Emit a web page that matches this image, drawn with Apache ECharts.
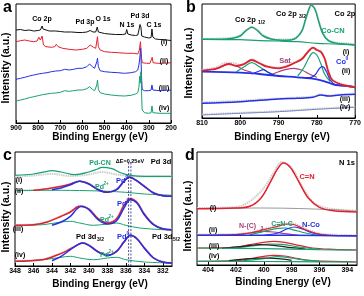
<!DOCTYPE html>
<html><head><meta charset="utf-8">
<script src="https://cdn.jsdelivr.net/npm/echarts@6/dist/echarts.min.js"></script>
<style>html,body{margin:0;padding:0;background:#fff}#c{width:364px;height:296px}</style>
</head><body><div id="c"></div>
<script>
// ---------- Panel a: survey spectra [eV, intensity] ----------
const aTicks = [900,800,700,600,500,400,300,200];
const aI = [[900,93],[880,93.5],[860,92.5],[840,93],[820,92],[800,92.5],[795,93.5],[790,93],[782,97],[778,94],[770,92.5],[750,92],[720,92],[700,91.5],[680,91],[650,91],[620,90.5],[600,90.5],[580,91],[565,92.5],[560,94],[552,91],[540,91],[533,96],[528,91],[520,90],[500,89.5],[480,89],[450,88.5],[420,88.5],[405,89],[400,93.5],[395,89],[380,88],[360,87.5],[350,88],[345,93],[340,98.5],[336,96],[332,87],[320,86],[300,85],[290,85.5],[286,94],[282,86],[270,84],[250,83.5],[220,83],[200,82.5]];
const aII = [[900,81.3],[880,82.3],[860,83],[840,82],[820,81.3],[805,82],[797,85.7],[790,83],[782,87],[776,78],[765,76.3],[740,75.7],[725,76.3],[718,78.7],[710,76.3],[690,74.7],[660,73.7],[630,73],[600,73.7],[580,74.7],[565,78],[560,79.7],[550,75.7],[540,74.7],[532,86.3],[528,76.3],[520,73],[500,71.3],[470,70.7],[440,70.3],[400,69.7],[370,69.7],[350,69],[343,73],[338,81.3],[335,79.7],[333,64.7],[330,60.3],[310,59.7],[295,59.7],[288,61.3],[285,65.7],[281,60.3],[260,59.7],[230,59.7],[200,60.3]];
const aIII = [[900,43.7],[880,44.7],[860,45.7],[840,47],[820,48],[800,49],[780,49.7],[760,50.3],[740,51.3],[720,52],[700,52.3],[680,53.7],[660,53],[640,53.7],[620,54.7],[600,54.7],[580,56.3],[568,59],[562,60.3],[555,56.3],[545,54.7],[535,61.3],[532,64.7],[528,56.3],[520,52.3],[500,51.3],[470,50.7],[440,50.3],[410,49.7],[380,50.3],[360,51.3],[350,53],[345,58],[342,63],[340,61.3],[337,74.7],[335,73],[333,46.3],[330,33.7],[320,32.3],[300,32.3],[290,33],[286,38],[282,33],[250,32.3],[220,32.7],[200,33]];
const aIV = [[900,22],[880,23],[860,24],[840,25.3],[820,26.3],[800,27.3],[780,28.3],[760,29],[740,29.7],[720,30],[700,30.7],[680,32.3],[660,31.7],[640,32.3],[620,33],[600,33],[580,34.3],[568,36.3],[562,37],[555,33.7],[545,32.3],[535,38],[532,43],[528,33.7],[520,30.3],[500,29],[470,28],[440,27.3],[410,27],[380,27.7],[360,29],[350,30.3],[345,35.7],[341,47],[339,39.7],[336,51.3],[334,44.7],[332,23],[330,13],[320,10.3],[300,9.7],[290,10.3],[286,17],[282,10.3],[250,9.7],[220,9.7],[200,9.7]];

// ---------- Panel b: Co 2p ----------
const bTicks = [810,800,790,780,770];
const bRawI = [[810,79],[805,79.5],[802,80.5],[800,83],[798.5,88],[797,91],[795.5,88],[794,83],[792,79.5],[790,78.5],[788,78.5],[786,79.5],[784,87],[783,98],[782,109],[781.5,112],[780.5,109],[779.5,97],[778.5,86],[777,78],[775,75.5],[772,74.5],[770,73.5]];
const bFitI = [[810,78.7],[805,78.7],[802,79.7],[800,82],[798.5,87.3],[797,90.7],[795.5,87.3],[794,82],[792,79],[790,78],[788,77.7],[786,78.7],[784,86.3],[783,98],[782,109.7],[781.5,113],[780.5,108.7],[779.5,96.3],[778.5,84.7],[777,77.3],[775,74.7],[772,73.7],[770,73]];
const bBgI = [[810,78.7],[800,78.3],[795,77.3],[790,77],[785,76.3],[780,74.7],[775,74],[770,73]];
const bRawII = [[810,48],[806,51],[804,55],[802,55],[800,53],[798,56],[797,58.5],[795,55],[793,52],[790,50.5],[788,52],[786,55.5],[784,59],[782.5,65.5],[781,70],[780,68.5],[779,66],[778,60],[777,47],[776,38.5],[774,34.5],[772,32.5],[770,31]];
const bEnvII = [[810,47.3],[806,49.7],[803,54],[801,52],[799,54],[797,58],[795,54.7],[793,51.3],[790,49.7],[788,51.3],[786,54.7],[784,58.7],[782.5,65.3],[781,70.3],[780,68],[779,66.3],[778,59.7],[777,46.3],[776,38],[774,34],[772,32],[770,30.7]];
const bBgII = [[810,46.3],[800,45.3],[795,44],[790,42],[785,40.7],[780,38.7],[777,35.3],[775,33],[772,32],[770,30.7]];
const bCo0a = [[797,44],[795,47],[794,48.3],[793,46.3],[791,42.3]];
const bCo0b = [[784,40.3],[782,40.3],[780.5,43],[779.3,49.7],[778.5,51.3],[777.5,46.3],[776.5,38],[775,33],[772,32]];
const bCoCNa = [[801,46.3],[799,51.3],[797,55.3],[795,51.3],[793,46.3],[791,42.7]];
const bCoCNb = [[785,42],[783.5,49.7],[782,60.7],[781,65.3],[780,63],[779,54.7],[778,44],[776.5,36.3]];
const bSatA = [[807,48],[805,51.3],[803,54],[801,52],[799,48],[797,45.7]];
const bSatB = [[792,43.3],[790,46.3],[788,48.7],[786,49.7],[784,48],[782,44],[780,40.7]];
const bRawIII = [[810,15.5],[805,16.5],[800,17],[795,18.5],[790,19.5],[785,20.5],[781,21.5],[779,23.5],[777,22.5],[774,23.5],[770,24.5]];
const bFitIII = [[810,14.7],[800,16.3],[790,19],[785,19.7],[781,20.7],[779,23],[777,22],[774,23],[770,23.7]];
const bRawIV = [[810,3.5],[800,5.2],[790,6.8],[780,9.2],[770,11.2]];
const bFitIV = [[810,3],[800,4.7],[790,6.3],[780,8.7],[770,10.7]];

// ---------- Panel c: Pd 3d ----------
const cTicks = [348,346,344,342,340,338,336,334,332];
const cRawI = [[348,89.5],[346,90.5],[344,92],[342,90],[340,91.5],[338.6,94],[337,91.5],[335,89.5],[331,89.5]];
const cPdCN = [[348,90.7],[346,92],[344.5,94.7],[344,95.3],[343,94],[341.5,91.3],[340,94],[339,97.3],[338.6,98.7],[337.5,97.3],[336.5,93],[335.5,90.7],[334,89.7],[331,89.7]];
const cRawII = [[348,75.5],[345,76.5],[343,79],[342,82],[341,85],[340,82.5],[339,77],[338,74],[337,76.5],[336.2,85],[335.6,89],[335,86.5],[334,80],[333,73.5],[332,71],[331,70]];
const cEnvII = [[346,75.7],[344.5,77.3],[343,79.7],[342,82],[341,84.7],[340,82],[339,76.3],[338,73.7],[337,76.3],[336.2,84.7],[335.6,88.7],[335,86.3],[334,79.7],[333,73],[332,70.3],[331,69.7]];
const cPd0II = [[344,76.3],[343,78],[342,81.3],[341,84.7],[340,82],[339,76.3],[338,73.7],[337,76.3],[336.2,84.7],[335.6,88.7],[335,86.3],[334,79.7],[333,73],[332,70.3],[331,69.7]];
const cPd2II = [[348,75.3],[344,75.7],[340,75.3],[338,74.7],[336,73.7],[334,72],[331,70.7]];
const cRawIII = [[348,41],[346,41.5],[344.5,44.5],[343,50],[342,54.5],[341,60],[340,57.5],[339,47.5],[338,43.5],[337,47.5],[336.2,61],[335.5,67.5],[334.8,64],[334,52.5],[333,42],[332,37.5],[331,36.5]];
const cEnvIII = [[348,40.7],[346,41.3],[344.5,44],[343,49.7],[342,54],[341,59.7],[340,57],[339,47.3],[338,43],[337,47.3],[336.2,60.7],[335.5,67.3],[334.8,63.7],[334,52],[333,41.3],[332,37],[331,36.3]];
const cPd0III = [[344,40.7],[343,44],[342,49.7],[341.3,57],[340.8,59.7],[340,56.3],[339,46.3],[338,42],[337,45.3],[336.2,58],[335.5,66.3],[334.8,63],[334,51.3],[333,41.3],[332,37.3],[331,36.3]];
const cPd2III = [[348,40.7],[345,41.3],[343,44],[342,44.7],[341,43],[339.5,40.7],[338,42],[337,43],[336,40.7],[334.5,38],[332,36.3],[331,36]];
const cRawIV = [[348,5],[345,6.5],[343.5,11],[342.5,15],[341.5,20],[340.7,23.3],[340,21],[339,14.5],[338,11],[337,15],[336.2,24.3],[335.5,31],[334.8,27.5],[334,18.5],[333,8.5],[332,4.3],[331,3.3]];
const cEnvIV = [[348,4.7],[345,6.3],[343.5,10.7],[342.5,14.7],[341.5,19.7],[340.7,23],[340,20.7],[339,14.3],[338,10.7],[337,14.7],[336.2,24],[335.5,30.7],[334.8,27.3],[334,18],[333,8],[332,4],[331,3]];
const cPd0IV = [[344,5.3],[343,9.7],[342,16.3],[341.2,21.3],[340.7,23],[340,20.7],[339,14],[338,10.7],[337,14.7],[336.2,24],[335.5,30.7],[334.8,27.3],[334,18],[333,8],[332,4],[331,3]];
const cPd2IV = [[348,4.7],[345,6.3],[343,8.7],[342,9.7],[341,8],[339.5,6.3],[338,8],[337,8.7],[336,6.3],[334,4],[331,3]];
const cMarks = [335.7, 335.45];

// ---------- Panel d: N 1s ----------
const dTicks = [404,402,400,398,396,394];
const dRawI = [[404.8,57],[402,58],[401,63.7],[400,77],[399.3,92],[398.7,103],[398,97],[397.3,80.3],[396.5,63.7],[395.5,57],[393.3,54.3]];
const dBaseI = [[404.8,56.3],[400,57],[395,55.3],[393.3,53.7]];
const dCN = [[404.8,56.3],[402,57],[401,58.7],[400.2,67],[399.5,83.7],[399,96.3],[398.6,102],[398.1,97.7],[397.5,83.7],[396.8,67],[396,57.7],[395,54.3],[393.3,53]];
const dBaseII = [[404.8,29.7],[400,29.7],[396,29.5],[393.3,29]];
const dRawII = [[404.8,30.5],[402,31],[401,32.5],[400,36],[399,39.5],[398.3,41.5],[397.8,41],[397,36],[396,31.5],[395,30.3],[393.3,29.7]];
const dEnvII = [[404.8,29.7],[402,30.3],[401,32],[400,35.3],[399,38.7],[398.3,41],[397.8,40.3],[397,35.3],[396,31],[395,29.7],[393.3,29.3]];
const dNCo = [[400,29.7],[399,32],[398.3,36.3],[397.8,38],[397.2,36],[396.5,32],[395.5,29.7]];
const dCNC = [[401,30.3],[400,33.7],[399,36.7],[398.5,37],[398,35.7],[397,32],[396,29.7]];
const dNC3 = [[402,30.3],[401,32],[400,33.7],[399.3,33],[398.5,31.3],[397.5,29.7]];
const dBaseIII = [[404.8,17],[400,16.3],[396,15.3],[393.3,15]];
const dEnvIII = [[404.8,17],[402,18],[401,20.3],[400,22.7],[399.3,23.7],[398.5,22.7],[397.5,19.7],[396.5,17],[395,15.7],[393.3,15]];
const dGrIII = [[402,17],[400.5,19.7],[399.5,21],[398.7,20.7],[397.5,18],[396,15.7]];
const dBkIII = [[403,16.7],[401.5,18.7],[400.3,20.3],[399.3,19.7],[398,17.3],[397,16]];
const dBaseIV = [[404.8,3.7],[400,3.5],[396,3.2],[393.3,3]];
const dEnvIV = [[404.8,3.7],[402,4.3],[401,6.3],[400,8.7],[399.3,9.7],[398.5,9],[397.5,6.3],[396.5,4.3],[393.3,3]];
const dGrIV = [[401.5,4.3],[400,6.3],[399,8.3],[398.3,7.7],[397.3,5.3],[396,3.7]];
const dBkIV = [[402.5,4.3],[401,6.3],[400,7],[399,6.3],[398,4.7]];

// ---------- styling ----------
const FF = '"Liberation Sans", Arial, Helvetica, sans-serif';
const RED = '#e2212e', BLUE = '#2530e6', GREEN = '#18a070', PURP = '#a8407e', GRAY = '#cdcdcd', BLK = '#111';

const grids = [
  {left:16, top:4, width:155, height:119},
  {left:202, top:4, width:155, height:114},
  {left:15, top:152, width:157, height:114},
  {left:197, top:152, width:160, height:113}
].map(g => Object.assign(g, {show:true, borderColor:'#000', borderWidth:1, backgroundColor:'transparent'}));
const yMax = [119, 114, 114, 113];

function xa(i, min, max, ticks, extra) {
  return Object.assign({
    gridIndex:i, type:'value', inverse:true, min, max,
    axisLine:{show:true, lineStyle:{color:'#000', width:1}},
    axisTick:{show:true, inside:true, length:3, lineStyle:{color:'#000'}, customValues:ticks},
    axisLabel:{fontSize:7, fontWeight:'bold', color:'#000', margin:2, fontFamily:FF, customValues:ticks},
    splitLine:{show:false}
  }, extra || {});
}
const xAxes = [xa(0,200,900,aTicks), xa(1,770,810,bTicks), xa(2,331,348,cTicks), xa(3,393.3,404.8,dTicks)];
const yAxes = yMax.map((m,i) => ({gridIndex:i, type:'value', min:0, max:m, axisLine:{show:false}, axisTick:{show:false}, axisLabel:{show:false}, splitLine:{show:false}}));

function L(g, data, color, w, opt) {
  return Object.assign({type:'line', xAxisIndex:g, yAxisIndex:g, data, symbol:'none', smooth:0.35,
    lineStyle:{color, width:w}, silent:true, animation:false, z:3}, opt || {});
}
function RAW(g, data) { return L(g, data, GRAY, 2, {z:1, lineStyle:{color:GRAY, width:2, type:[1.5,0.8]}}); }
const series = [
  L(0, aI, BLK, 1, {smooth:false}), L(0, aII, RED, 1, {smooth:false}), L(0, aIII, BLUE, 1, {smooth:false}), L(0, aIV, GREEN, 1, {smooth:false}),
  // b
  RAW(1, bRawI), L(1, bBgI, GREEN, 1.2), L(1, bFitI, GREEN, 1.5),
  RAW(1, bRawII), L(1, bSatA, PURP, 1.2), L(1, bSatB, PURP, 1.2), L(1, bCoCNa, GREEN, 1.2), L(1, bCoCNb, GREEN, 1.2),
  L(1, bCo0a, BLUE, 1.2), L(1, bCo0b, BLUE, 1.2), L(1, bBgII, BLUE, 1.8), L(1, bEnvII, RED, 1.8),
  RAW(1, bRawIII), L(1, bFitIII, BLUE, 1.5), RAW(1, bRawIV), L(1, bFitIV, '#7a86cc', 1),
  // c
  RAW(2, cRawI), L(2, cPdCN, GREEN, 1.2),
  RAW(2, cRawII), L(2, cPd2II, GREEN, 1), L(2, cEnvII, RED, 1.5), L(2, cPd0II, BLUE, 1.5),
  RAW(2, cRawIII), L(2, cPd2III, GREEN, 1), L(2, cEnvIII, RED, 1.5), L(2, cPd0III, BLUE, 1.5),
  RAW(2, cRawIV), L(2, cPd2IV, GREEN, 1), L(2, cEnvIV, RED, 1.5), L(2, cPd0IV, BLUE, 1.5),
  ...cMarks.map(v => L(2, [[v,0],[v,104]], '#1a237e', 0.8, {smooth:false, lineStyle:{color:'#1a237e', width:0.8, type:[2,1.5]}})),
  // d
  RAW(3, dRawI), L(3, dBaseI, '#999', 1), L(3, dCN, RED, 1.5),
  RAW(3, dRawII), L(3, dNC3, PURP, 1.2), L(3, dCNC, GREEN, 1.2), L(3, dNCo, BLUE, 1.2), L(3, dEnvII, RED, 1.2), L(3, dBaseII, BLUE, 1.5),
  L(3, dEnvIII, RED, 1.2), L(3, dGrIII, GREEN, 1.2), L(3, dBkIII, '#222', 1.2), L(3, dBaseIII, GREEN, 1.2),
  L(3, dEnvIV, RED, 1.2), L(3, dGrIV, GREEN, 1.2), L(3, dBkIV, '#222', 1.2), L(3, dBaseIV, GREEN, 1.2)
];

function T(x, y, text, color, size, align, rot) {
  const st = {text, fill:color || '#000', font:'bold ' + (size || 7.5) + 'px ' + FF,
    textAlign:align || 'center', textVerticalAlign:'middle', align:align || 'center', verticalAlign:'middle'};
  const o = {type:'text', x, y, style:st, silent:true, z:10};
  if (rot) o.rotation = rot;
  return o;
}
const R = Math.PI / 2;
const graphics = [
  // panel letters
  T(3, 8, 'a', '#000', 16, 'left'), T(186, 8, 'b', '#000', 16, 'left'), T(3, 156, 'c', '#000', 16, 'left'), T(185, 156, 'd', '#000', 16, 'left'),
  // axis titles
  T(6, 68, 'Intensity (a.u.)', '#000', 10.5, 'center', R), T(189, 63, 'Intensity (a.u.)', '#000', 10.5, 'center', R),
  T(6, 217, 'Intensity (a.u.)', '#000', 10.5, 'center', R), T(188, 216, 'Intensity (a.u.)', '#000', 10.5, 'center', R),
  T(100, 137, 'Binding Energy (eV)', '#000', 10), T(282, 137, 'Binding Energy (eV)', '#000', 10),
  T(100, 284, 'Binding Energy (eV)', '#000', 10), T(283, 282, 'Binding Energy (eV)', '#000', 10),
  // panel a
  T(42, 19, 'Co 2p', '#000', 7), T(85, 22, 'Pd 3p', '#000', 7), T(103, 19, 'O 1s', '#000', 7),
  T(127, 25, 'N 1s', '#000', 7), T(140, 16, 'Pd 3d', '#000', 7), T(154, 25, 'C 1s', '#000', 7),
  T(164, 42, '(i)', '#000', 7), T(164, 61, '(ii)', '#000', 7), T(164, 88, '(iii)', '#000', 7), T(164, 108, '(iv)', '#000', 7),
  // panel b
  T(235, 20, 'Co 2p', '#000', 7.5, 'left'), T(258, 23, '1/2', '#000', 5, 'left'),
  T(276, 14, 'Co 2p', '#000', 7.5, 'left'), T(299, 17, '3/2', '#000', 5, 'left'),
  T(345, 14, 'Co 2p', '#000', 7.5), T(333, 31, 'Co-CN', GREEN, 7.5),
  T(346, 52, '(i)', '#000', 7), T(285, 61, 'Sat', PURP, 7.5),
  T(336, 62, 'Co', BLUE, 7.5, 'left'), T(345.5, 59, '0', BLUE, 5, 'left'),
  T(346, 71, '(ii)', '#000', 7), T(345, 99, '(iii)', '#000', 7), T(345, 107, '(iv)', '#000', 7),
  // panel c
  T(100, 163, 'Pd-CN', GREEN, 7), T(130, 161, '\u0394E=0.25eV', '#000', 5.5), T(161, 162, 'Pd 3d', '#000', 7.5),
  T(19, 180, '(i)', '#000', 7), T(19, 191, '(ii)', '#000', 7), T(18, 229, '(iii)', '#000', 7), T(20, 255, '(iv)', '#000', 7),
  T(95, 187, 'Pd', GREEN, 7, 'left'), T(103.5, 184, '2+', GREEN, 4.5, 'left'),
  T(116, 181, 'Pd', BLUE, 7.5, 'left'), T(125.5, 178, '0', BLUE, 5, 'left'),
  T(117, 204, 'Pd', BLUE, 7.5, 'left'), T(126.5, 201, '0', BLUE, 5, 'left'),
  T(100, 220, 'Pd', GREEN, 7, 'left'), T(108.5, 217, '2+', GREEN, 4.5, 'left'),
  T(76, 237, 'Pd 3d', '#000', 7.5, 'left'), T(97, 240, '3/2', '#000', 5, 'left'),
  T(152, 237, 'Pd 3d', '#000', 7.5, 'left'), T(173, 240, '5/2', '#000', 5, 'left'),
  T(117, 237, 'Pd', BLUE, 7.5, 'left'), T(126.5, 234, '0', BLUE, 5, 'left'),
  T(100, 255, 'Pd', GREEN, 7, 'left'), T(108.5, 252, '2+', GREEN, 4.5, 'left'),
  // panel d
  T(347, 163, 'N 1s', '#000', 7.5), T(307, 177, 'C=N', RED, 7.5),
  T(213, 208, '(i)', '#000', 7), T(239, 226, 'N-(C)', PURP, 7, 'left'), T(260.5, 229, '3', PURP, 5, 'left'),
  T(282, 224, 'C=N-C', GREEN, 7), T(311, 225, 'N-Co', BLUE, 7.5),
  T(213, 230, '(ii)', '#000', 7), T(214, 246, '(iii)', '#000', 7), T(214, 256, '(iv)', '#000', 7)
];

const chart = echarts.init(document.getElementById('c'), null, {renderer:'canvas'});
chart.setOption({animation:false, grid:grids, xAxis:xAxes, yAxis:yAxes, series, graphic:graphics});
</script></body></html>
